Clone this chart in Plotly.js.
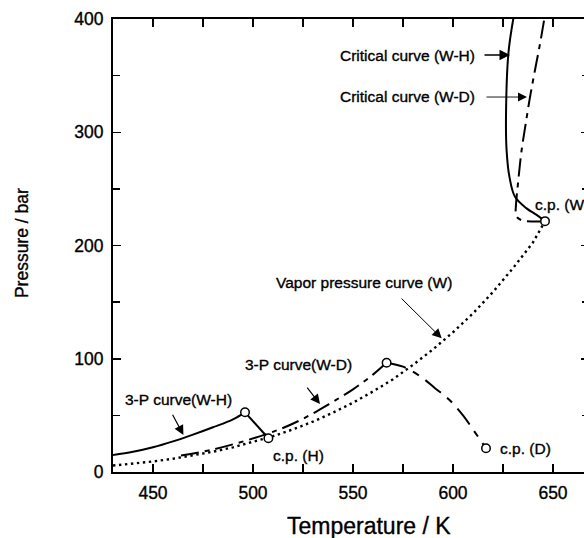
<!DOCTYPE html>
<html>
<head>
<meta charset="utf-8">
<script src="https://cdn.plot.ly/plotly-3.0.1.min.js"></script>
<style>
html,body{margin:0;padding:0;overflow:hidden;background:#fff;}
#chart{width:600px;height:538px;}
#chart svg text{stroke:#000;stroke-width:0.35px;}
</style>
</head>
<body>
<div id="chart"></div>
<script>
// Vapor pressure curve of water (W)
var vaporT = [430,440,450,460,470,480,490,500,510,520,530,540,550,560,570,580,590,600,610,620,630,640,646];
var vaporP = [5.7,7.3,9.3,11.7,14.6,17.9,21.8,26.4,31.6,37.6,44.5,52.4,61.2,71.1,81.9,94.6,108.3,123.4,140,159,180,202.7,221.5];
// 3-phase curve W-H
var whT = [430,440,450,460,470,480,490,496];
var whP = [15,17.8,21.8,27,33,39.5,46.5,52.7];
// branch from W-H end point to c.p.(H)
var whBranchT = [496,507.7];
var whBranchP = [52.7,29.8];
// 3-phase curve W-D
var wdT = [464,479,497,513,525,538,550,560,566.8];
var wdP = [14.5,19.5,28,37.5,47,60,73,86,96.5];
// branch from W-D end point to c.p.(D)
var wdBranchT = [566.8,575,584,591,598,605,611,616.5];
var wdBranchP = [96.5,93,84,74,64,50,35,21];
// critical curve W-H
var critHT = [646,641.8,636.8,631,628.2,626.8,626.5,627.7,630.2];
var critHP = [221.5,227,232.8,243,260.8,284,313.7,369.7,400.6];
// critical curve W-D
var critDT = [646,640,635,632.3,631.4,631.5,632.5,634.3,636.3,638.5,641,643.5,645.7];
var critDP = [221.5,221.2,222,224.5,229,236,255,284,307,331,355,378,400.6];
// critical / end points (open circles)
var cpT = [496,507.7,566.8,616.5,646];
var cpP = [52.7,29.8,96.5,21,221.5];

var FONT = 'Arial, "Liberation Sans", Helvetica, sans-serif';
var dashDot = '18px,6px,5px,6px';

var traces = [
  {x: vaporT, y: vaporP, mode:'lines', line:{color:'black', width:2.4, dash:'2.4px,3.6px'}},
  {x: whT, y: whP, mode:'lines', line:{color:'black', width:2, shape:'spline'}},
  {x: whBranchT, y: whBranchP, mode:'lines', line:{color:'black', width:2}},
  {x: wdT, y: wdP, mode:'lines', line:{color:'black', width:2, dash:dashDot, shape:'spline'}},
  {x: wdBranchT, y: wdBranchP, mode:'lines', line:{color:'black', width:2, dash:'20px,8px,7px,8px', shape:'spline'}},
  {x: critHT, y: critHP, mode:'lines', line:{color:'black', width:2, shape:'spline'}},
  {x: critDT, y: critDP, mode:'lines', line:{color:'black', width:2, dash:dashDot, shape:'spline'}},
  {x: cpT, y: cpP, mode:'markers', marker:{symbol:'circle', size:8.5, color:'white', line:{color:'black', width:1.5}}}
];

var tf = {family: FONT, size: 15.5, color: 'black'};
function label(t, x, y, xa){
  return {text:t, x:x, y:y, xref:'x', yref:'y', showarrow:false, xanchor:xa||'center', yanchor:'middle', font:tf};
}
function arrow(x, y, ax, ay, w, s){
  return {text:'', x:x, y:y, xref:'x', yref:'y', ax:ax, ay:ay, showarrow:true, arrowhead:2, arrowsize:s, arrowwidth:w, arrowcolor:'black'};
}

var annotations = [
  label('Critical curve (W-H)', 612, 368.2, 'right'),
  arrow(628.5, 368.2, -27, 0, 1.5, 1.4),
  label('Critical curve (W-D)', 612, 331.4, 'right'),
  arrow(637, 331.1, -42, 0, 0.9, 2.0),
  label('c.p. (W)', 640.2, 235.8, 'left'),
  label('Vapor pressure curve (W)', 555.4, 166.9, 'center'),
  arrow(594.35, 118.06, -41.7, -41.3, 1, 1.9),
  label('3-P curve(W-D)', 522.7, 94.5, 'center'),
  arrow(533.5, 60, -14, -18, 1.2, 1.6),
  label('3-P curve(W-H)', 462.5, 63.6, 'center'),
  arrow(465.2, 32.7, -11.6, -21.7, 1.2, 1.6),
  label('c.p. (H)', 508.9, 15, 'left'),
  label('c.p. (D)', 622.7, 20.9, 'left'),
  {text:'Temperature / K', xref:'paper', yref:'paper', x:0.5378, y:-0.1200, xanchor:'center', yanchor:'middle', showarrow:false, font:{family:FONT, size:23, color:'black'}},
  {text:'Pressure / bar', xref:'paper', yref:'paper', x:-0.191, y:0.5055, xanchor:'center', yanchor:'middle', textangle:-90, showarrow:false, font:{family:FONT, size:17.5, color:'black'}}
];

var axisCommon = {
  ticks:'inside', ticklen:8, tickwidth:1.5, tickcolor:'black',
  showline:true, linewidth:2, linecolor:'black', mirror:'ticks',
  showgrid:false, zeroline:false,
  tickfont:{family:FONT, size:17.5, color:'black'}
};

var layout = {
  width:600, height:538,
  margin:{l:113, r:11, t:19, b:66},
  paper_bgcolor:'white', plot_bgcolor:'white',
  showlegend:false,
  xaxis: Object.assign({}, axisCommon, {
    range:[430,668], tickmode:'linear', tick0:450, dtick:50, ticklabelstandoff:4,
    minor:{tick0:425, dtick:25, ticks:'inside', ticklen:8, tickwidth:1.5, tickcolor:'black', showgrid:false}
  }),
  yaxis: Object.assign({}, axisCommon, {
    range:[0,400], tickmode:'linear', tick0:0, dtick:100, ticklabelstandoff:4,
    minor:{tick0:0, dtick:50, ticks:'inside', ticklen:7, tickwidth:1.5, tickcolor:'black', showgrid:false}
  }),
  annotations: annotations
};

Plotly.newPlot('chart', traces, layout, {staticPlot:true, displayModeBar:false});
</script>
</body>
</html>
